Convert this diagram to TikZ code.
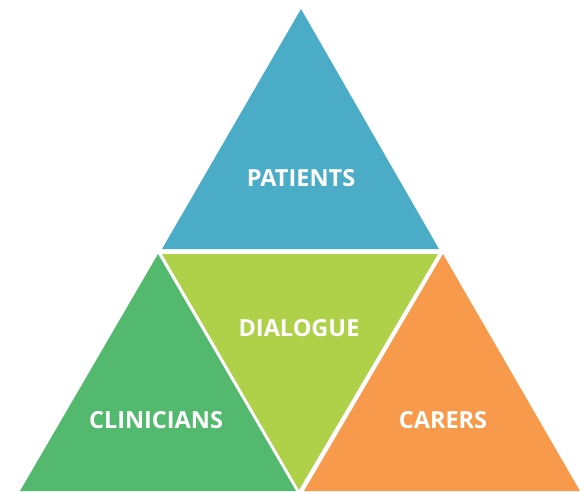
\documentclass[tikz,border=0pt]{standalone}
\usepackage{fontspec}
\setmainfont{Open Sans}
\definecolor{cblue}{HTML}{4AACC6}
\definecolor{cgreen}{HTML}{52B96E}
\definecolor{clime}{HTML}{AED149}
\definecolor{corange}{HTML}{F79A4B}
\begin{document}
\begin{tikzpicture}[x=1pt,y=-1pt,
  lbl/.style={text=white,font=\fontsize{23.5}{26}\selectfont\bfseries,inner sep=0pt}]
\useasboundingbox (0,0) rectangle (587,491);
\fill[cblue] (301,9) -- (439,249) -- (162,249) -- cycle;
\fill[cgreen] (158,254) -- (296,491) -- (20,491) -- cycle;
\fill[clime] (162,254) -- (438,254) -- (299,490) -- cycle;
\fill[corange] (443,254) -- (580,491) -- (304,491) -- cycle;
\node[lbl] (patients) at (301,178) {PATIENTS};
\node[lbl] (dialogue) at (299,328) {DIALOGUE};
\node[lbl] (clinicians) at (156,420) {CLINICIANS};
\node[lbl] (carers) at (443,420) {CARERS};
\end{tikzpicture}
\end{document}
